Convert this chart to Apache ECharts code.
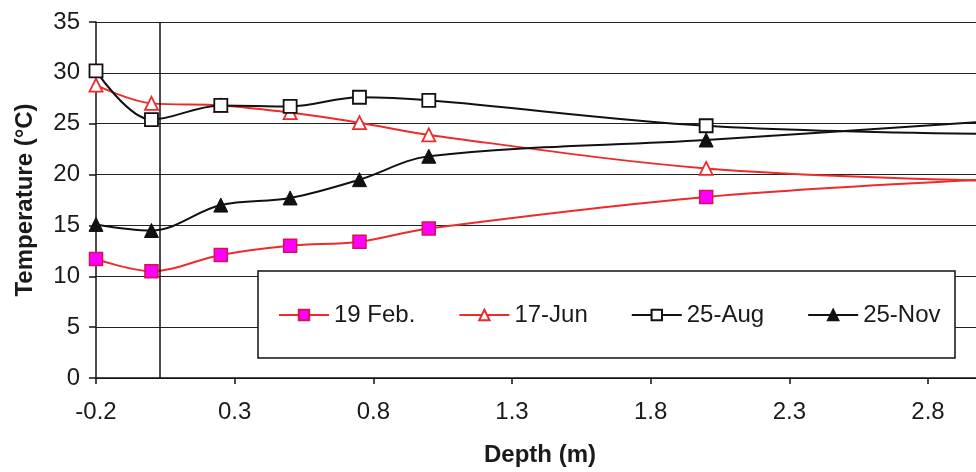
<!DOCTYPE html>
<html>
<head>
<meta charset="utf-8">
<script src="https://cdn.jsdelivr.net/npm/echarts@6/dist/echarts.min.js"></script>
<style>
html,body{margin:0;padding:0;background:#fff;}
#chart{width:976px;height:472px;}
</style>
</head>
<body>
<div id="chart"></div>
<script>
var depth = [-0.2, 0, 0.25, 0.5, 0.75, 1.0, 2.0, 3.0];
var feb19 = [11.7, 10.5, 12.1, 13.0, 13.4, 14.7, 17.8, 19.5];
var jun17 = [28.8, 27.0, 26.8, 26.1, 25.1, 23.9, 20.6, 19.4];
var aug25 = [30.2, 25.4, 26.8, 26.7, 27.6, 27.3, 24.8, 24.0];
var nov25 = [15.1, 14.5, 17.0, 17.7, 19.5, 21.8, 23.4, 25.2];
var seriesNames = ['19 Feb.', '17-Jun', '25-Aug', '25-Nov'];
var surfaceDepth = 0.025;
var xMin = -0.2, xMaxVisible = 2.973;

function pairs(ys) { return depth.map(function (d, i) { return [d, ys[i]]; }); }

var FONT = 'Liberation Sans, Arial, sans-serif';
var chart = echarts.init(document.getElementById('chart'), null, {renderer: 'canvas'});
var SMOOTH = 0.35;
chart.setOption({
  animation: false,
  backgroundColor: '#fff',
  grid: {left: 96, top: 22, right: 0, bottom: 91, containLabel: false},
  xAxis: {
    type: 'value', min: xMin, max: xMaxVisible, interval: 0.5,
    name: 'Depth (m)', nameLocation: 'middle', nameGap: 65,
    nameTextStyle: {fontFamily: FONT, fontWeight: 'bold', fontSize: 24, color: '#1a1a1a', padding: [0, 0, 0, 8]},
    axisLine: {show: true, onZero: false, lineStyle: {color: '#111', width: 1.5}},
    axisTick: {show: true, inside: false, length: 6, lineStyle: {color: '#111', width: 1.5}},
    axisLabel: {fontFamily: FONT, fontSize: 24, color: '#1a1a1a', margin: 22, showMaxLabel: false,
      formatter: function (v) { return (Math.round(v * 10) / 10).toString(); }},
    splitLine: {show: false}
  },
  yAxis: {
    type: 'value', min: 0, max: 35, interval: 5,
    name: 'Temperature (°C)', nameLocation: 'middle', nameGap: 59,
    nameTextStyle: {fontFamily: FONT, fontWeight: 'bold', fontSize: 24, color: '#1a1a1a'},
    axisLine: {show: true, onZero: false, lineStyle: {color: '#111', width: 1.5}},
    axisTick: {show: true, length: 7, lineStyle: {color: '#111', width: 1.5}},
    axisLabel: {fontFamily: FONT, fontSize: 24, color: '#1a1a1a', margin: 16},
    splitLine: {show: true, lineStyle: {color: '#222', width: 1.2}}
  },
  legend: {
    data: seriesNames,
    left: 273, top: 298, z: 20,
    itemWidth: 50, itemHeight: 13, itemGap: 43,
    textStyle: {fontFamily: FONT, fontSize: 24, color: '#1a1a1a'}
  },
  graphic: [{
    type: 'rect', z: 10,
    shape: {x: 258, y: 271, width: 697, height: 87},
    style: {fill: '#fff', stroke: '#111', lineWidth: 1.5}
  }],
  series: [
    {
      name: '19 Feb.', type: 'line', data: pairs(feb19), smooth: SMOOTH, clip: true,
      symbol: 'rect', symbolSize: 13,
      lineStyle: {color: '#ee2a2a', width: 2},
      itemStyle: {color: '#ff00ff', borderColor: '#d4144a', borderWidth: 1.5},
      markLine: {
        silent: true, symbol: ['none', 'none'], label: {show: false},
        lineStyle: {color: '#111', width: 1.5, type: 'solid'},
        data: [{xAxis: surfaceDepth}]
      }
    },
    {
      name: '17-Jun', type: 'line', data: pairs(jun17), smooth: SMOOTH, clip: true,
      symbol: 'triangle', symbolSize: 13,
      lineStyle: {color: '#ee2a2a', width: 2},
      itemStyle: {color: '#fff', borderColor: '#ee2a2a', borderWidth: 1.8}
    },
    {
      name: '25-Aug', type: 'line', data: pairs(aug25), smooth: SMOOTH, clip: true,
      symbol: 'rect', symbolSize: 13,
      lineStyle: {color: '#111', width: 2},
      itemStyle: {color: '#fff', borderColor: '#111', borderWidth: 1.8}
    },
    {
      name: '25-Nov', type: 'line', data: pairs(nov25), smooth: SMOOTH, clip: true,
      symbol: 'triangle', symbolSize: 14,
      lineStyle: {color: '#111', width: 2},
      itemStyle: {color: '#111', borderColor: '#111', borderWidth: 1}
    }
  ]
});
</script>
</body>
</html>
